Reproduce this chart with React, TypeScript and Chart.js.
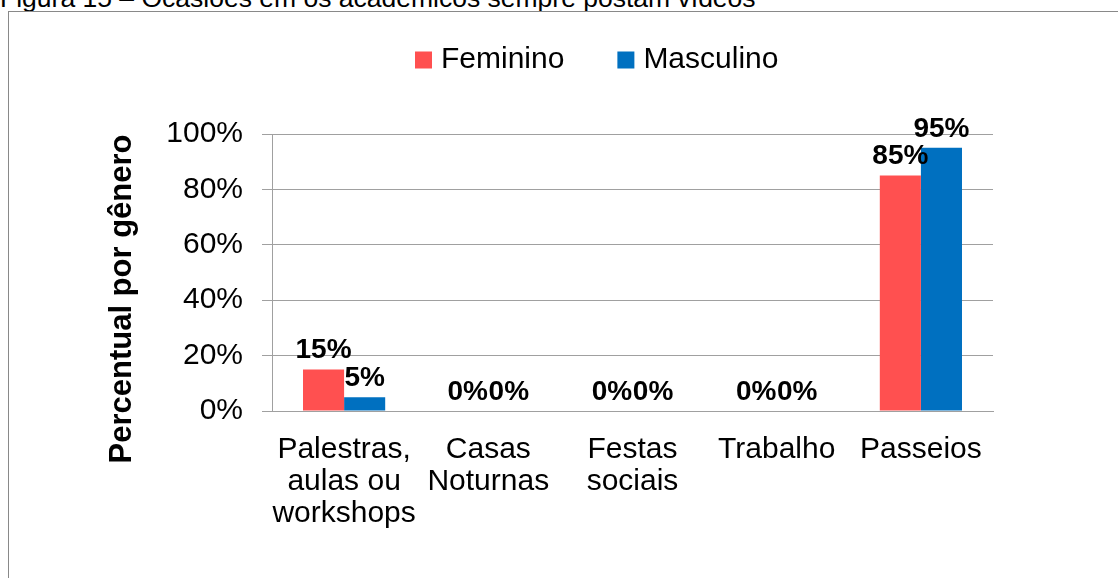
import React, { useEffect, useRef } from "react";
import { Chart, registerables } from "chart.js";

Chart.register(...registerables);

const categories: string[][] = [
  ["Palestras,", "aulas ou", "workshops"],
  ["Casas", "Noturnas"],
  ["Festas", "sociais"],
  ["Trabalho"],
  ["Passeios"],
];
const seriesNames = ["Feminino", "Masculino"];
const feminino = [15, 0, 0, 0, 85];
const masculino = [5, 0, 0, 0, 95];
const seriesColors = ["#FF5050", "#0070C0"];
const yMin = 0;
const yMax = 100;
const yStep = 20;
const figureTitle = "Figura 15 – Ocasiões em os acadêmicos sempre postam vídeos";
const yAxisTitle = "Percentual por gênero";

const FONT = "'Liberation Sans', Arial, Helvetica, sans-serif";
const FS = 30;
const CANVAS_W = 1109;
const CANVAS_H = 566;

const dataLabelPlugin = {
  id: "dataLabels",
  afterDatasetsDraw(chart: any) {
    const ctx = chart.ctx;
    ctx.save();
    ctx.font = `bold 28px ${FONT}`;
    ctx.fillStyle = "#000";
    ctx.textAlign = "center";
    ctx.textBaseline = "middle";
    chart.data.datasets.forEach((ds: any, di: number) => {
      const meta = chart.getDatasetMeta(di);
      meta.data.forEach((bar: any, i: number) => {
        ctx.fillText(`${ds.data[i]}%`, bar.x, bar.y - 19);
      });
    });
    ctx.restore();
  },
};

const legendPlugin = {
  id: "customLegend",
  afterDraw(chart: any) {
    const ctx = chart.ctx;
    ctx.save();
    ctx.font = `${FS}px ${FONT}`;
    ctx.textBaseline = "middle";
    ctx.textAlign = "left";
    let x = 406;
    const cy = 48;
    chart.data.datasets.forEach((ds: any) => {
      ctx.fillStyle = ds.backgroundColor;
      ctx.fillRect(x, cy - 8.5, 17, 17);
      ctx.fillStyle = "#000";
      const tx = x + 17 + 9;
      ctx.fillText(ds.label, tx, cy);
      x = tx + ctx.measureText(ds.label).width + 53;
    });
    ctx.restore();
  },
};

const yTitlePlugin = {
  id: "yTitle",
  afterDraw(chart: any) {
    const ctx = chart.ctx;
    ctx.save();
    ctx.font = `bold 31px ${FONT}`;
    ctx.fillStyle = "#000";
    ctx.textAlign = "center";
    ctx.textBaseline = "middle";
    ctx.translate(113, 287);
    ctx.rotate(-Math.PI / 2);
    ctx.fillText(yAxisTitle, 0, 0);
    ctx.restore();
  },
};

export default function App() {
  const canvasRef = useRef<HTMLCanvasElement | null>(null);

  useEffect(() => {
    const canvas = canvasRef.current;
    if (!canvas) return;
    const chart = new Chart(canvas, {
      type: "bar",
      data: {
        labels: categories,
        datasets: [
          {
            label: seriesNames[0],
            data: feminino,
            backgroundColor: seriesColors[0],
            categoryPercentage: 0.57,
            barPercentage: 1,
          },
          {
            label: seriesNames[1],
            data: masculino,
            backgroundColor: seriesColors[1],
            categoryPercentage: 0.57,
            barPercentage: 1,
          },
        ],
      },
      options: {
        animation: false,
        responsive: false,
        devicePixelRatio: 1,
        layout: { padding: { top: 122, right: 125, bottom: 0, left: 0 } },
        plugins: {
          legend: { display: false },
          tooltip: { enabled: false },
          title: { display: false },
        },
        scales: {
          x: {
            grid: { display: false, drawTicks: false },
            border: { display: true, color: "#A0A0A0", width: 1 },
            ticks: {
              color: "#000",
              font: { family: FONT, size: FS, lineHeight: "32px" },
              padding: 23,
              maxRotation: 0,
              autoSkip: false,
            },
            afterFit(scale: any) {
              scale.height = 167;
              scale.paddingLeft = 0;
              scale.paddingRight = 0;
              scale.paddingTop = 0;
              scale.paddingBottom = 0;
            },
          },
          y: {
            min: yMin,
            max: yMax,
            ticks: {
              stepSize: yStep,
              color: "#000",
              font: { family: FONT, size: FS },
              padding: 19,
              callback: (v: any) => `${v}%`,
            },
            grid: {
              color: "#A0A0A0",
              lineWidth: 1,
              tickLength: 10,
              drawTicks: true,
            },
            border: { display: true, color: "#A0A0A0", width: 1 },
            afterFit(scale: any) {
              scale.width = 263;
              scale.paddingLeft = 0;
              scale.paddingRight = 0;
              scale.paddingTop = 0;
              scale.paddingBottom = 0;
            },
          },
        },
      },
      plugins: [dataLabelPlugin, legendPlugin, yTitlePlugin],
    } as any);
    return () => chart.destroy();
  }, []);

  return (
    <div
      style={{
        position: "fixed",
        left: 0,
        top: 0,
        width: 1118,
        height: 578,
        overflow: "hidden",
        background: "#fff",
      }}
    >
      <div
        style={{
          position: "absolute",
          left: 0,
          top: -15,
          fontFamily: FONT,
          fontSize: 26.5,
          lineHeight: "26.5px",
          color: "#000",
          whiteSpace: "nowrap",
        }}
      >
        {figureTitle}
      </div>
      <div
        style={{
          position: "absolute",
          left: 8,
          top: 11,
          width: 1300,
          height: 800,
          border: "1px solid #898989",
          background: "#fff",
        }}
      >
        <canvas
          ref={canvasRef}
          width={CANVAS_W}
          height={CANVAS_H}
          style={{ display: "block", width: CANVAS_W, height: CANVAS_H }}
        />
      </div>
    </div>
  );
}
